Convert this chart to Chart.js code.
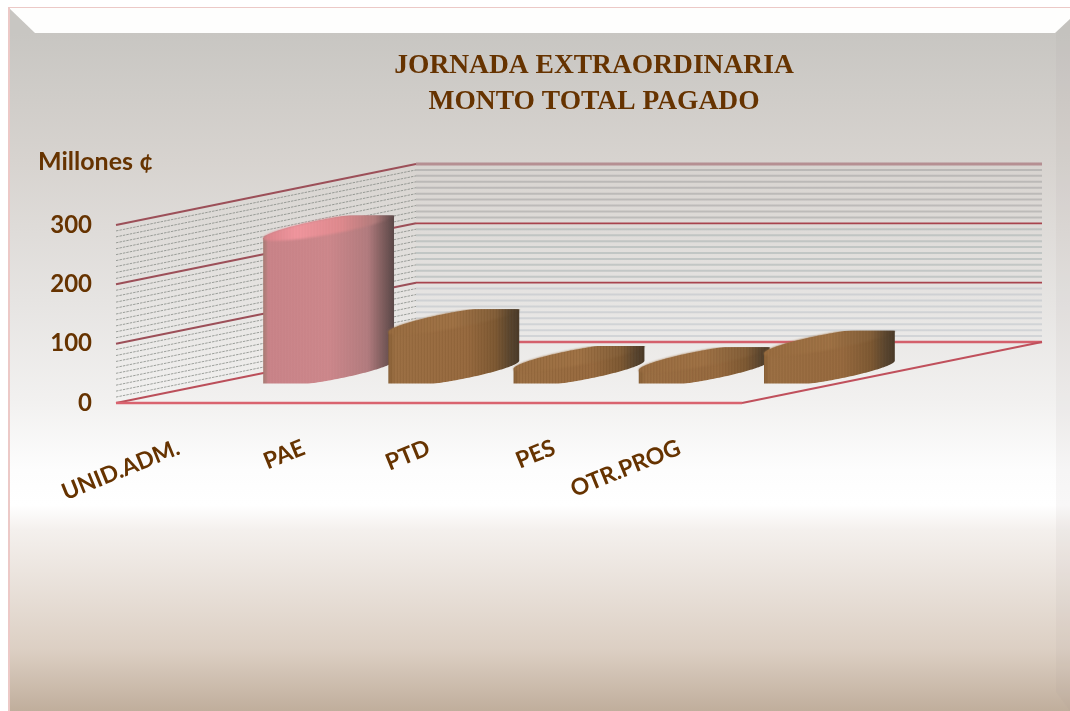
<!DOCTYPE html>
<html>
<head>
<meta charset="utf-8">
<title>Jornada extraordinaria</title>
<style>
html,body{margin:0;padding:0;background:#fff;}
canvas{display:block;}
</style>
<script src="https://cdn.jsdelivr.net/npm/chart.js@4/dist/chart.umd.js"></script>
</head>
<body>
<canvas id="c" width="1070" height="711"></canvas>
<script>
const titleLines = ["JORNADA EXTRAORDINARIA", "MONTO TOTAL PAGADO"];
const unitLabel = "Millones ¢";
const categories = ["UNID.ADM.", "PAE", "PTD", "PES", "OTR.PROG"];
const montoPagado = [246, 88, 26, 24, 52];
const yTicks = [0, 100, 200, 300];

const INK = "#663300";
const DEPTH_X = 300, DEPTH_Y = 61;   // oblique projection of the wall
const BAR_MID = 0.5;                 // bars stand half-way into the depth
const CAP_X = 0.36, CAP_Y = 0.36;    // depth of a bar relative to the wall
const CAP_BULGE = 1.3;               // rim overshoots and is flattened, as in the source render

const PALETTE = {
  pink:  {side:[[0,"#a57a72"],[.04,"#c98489"],[.5,"#cd888c"],[.8,"#b27c7f"],[.92,"#7c5c5c"],[1,"#5a4848"]],
          cap:[[0,"#d8848a"],[.25,"#f0969e"],[.6,"#de8a8e"],[.85,"#b27c7c"],[.94,"#7c5c5c"],[1,"#5e4a4a"]],
          stripe:"rgba(120,60,60,.03)"},
  brown: {side:[[0,"#8a6238"],[.05,"#9c7044"],[.6,"#986b40"],[.82,"#7e5a34"],[.93,"#5a4630"],[1,"#4a3b2a"]],
          cap:[[0,"#9a6e42"],[.5,"#a07346"],[.82,"#84603a"],[.93,"#5c4730"],[1,"#4c3c2a"]],
          stripe:"rgba(70,35,10,.10)"}
};
const barStyles = ["pink", "brown", "brown", "brown", "brown"];

function grad(ctx, x0, x1, stops){
  const g = ctx.createLinearGradient(x0, 0, x1, 0);
  stops.forEach(s => g.addColorStop(s[0], s[1]));
  return g;
}

function background(ctx){
  const W = 1070, H = 711;
  ctx.fillStyle = "#fff"; ctx.fillRect(0, 0, W, H);
  const g = ctx.createLinearGradient(0, 8, 0, H);
  const stops = [[33,"#c8c6c2"],[160,"#d7d3cf"],[300,"#e6e4e2"],[403,"#f2f1f0"],[470,"#fdfdfd"],
                 [505,"#ffffff"],[530,"#f4f0ed"],[600,"#e6ddd5"],[650,"#dccfc3"],[711,"#c0ae9c"]];
  stops.forEach(s => g.addColorStop((s[0]-8)/(H-8), s[1]));
  ctx.fillStyle = g; ctx.fillRect(9, 8, W-9, H-8);
  // top bevel
  ctx.fillStyle = "#fefefd";
  ctx.beginPath(); ctx.moveTo(9,8); ctx.lineTo(W,8); ctx.lineTo(W,19); ctx.lineTo(1055,33); ctx.lineTo(35,33); ctx.closePath(); ctx.fill();
  // right bevel
  ctx.fillStyle = "rgba(150,145,140,.07)";
  ctx.beginPath(); ctx.moveTo(W,19); ctx.lineTo(1056,33); ctx.lineTo(1056,692); ctx.lineTo(W,H); ctx.closePath(); ctx.fill();
  // frame
  ctx.fillStyle = "#ecc9c7";
  ctx.fillRect(8, 7, W-8, 1);
  ctx.fillRect(8, 7, 2, H-7);
}

function wall(chart){
  const {ctx, chartArea:a, scales:{y}} = chart;
  const xF = a.left, xB = a.left + DEPTH_X, xR = a.right + DEPTH_X;
  ctx.save();
  // minor gridlines, every tenth of a major step
  for (let v = y.min; v <= y.max; v += 10){
    if (v % 100 === 0) continue;
    const p = y.getPixelForValue(v);
    ctx.lineWidth = 2;
    ctx.strokeStyle = v > 200 ? "rgba(150,150,150,.45)" : v > 100 ? "rgba(150,165,165,.42)" : "rgba(170,180,190,.38)";
    ctx.beginPath(); ctx.moveTo(xB, p-DEPTH_Y); ctx.lineTo(xR, p-DEPTH_Y); ctx.stroke();
    ctx.lineWidth = 1;
    ctx.setLineDash([2.5,1]);
    ctx.strokeStyle = "rgba(125,130,125,.72)";
    ctx.beginPath(); ctx.moveTo(xF, p); ctx.lineTo(xB, p-DEPTH_Y); ctx.stroke();
    ctx.setLineDash([]);
  }
  // major gridlines
  yTicks.forEach(v => {
    const p = y.getPixelForValue(v);
    const top = v === y.max, zero = v === y.min;
    ctx.lineWidth = top ? 3 : zero ? 2.4 : 1.6;
    ctx.strokeStyle = top ? "rgba(170,120,125,.75)" : zero ? "#d4606c" : "#a8444e";
    ctx.beginPath(); ctx.moveTo(xB, p-DEPTH_Y); ctx.lineTo(xR, p-DEPTH_Y); ctx.stroke();
    ctx.lineWidth = 2;
    ctx.strokeStyle = zero ? "#bb4f5a" : "#9c4f58";
    ctx.beginPath(); ctx.moveTo(xF, p); ctx.lineTo(xB, p-DEPTH_Y); ctx.stroke();
  });
  // floor
  const p0 = y.getPixelForValue(0);
  ctx.lineWidth = 2.4; ctx.strokeStyle = "#d9636f";
  ctx.beginPath(); ctx.moveTo(xF, p0); ctx.lineTo(a.right, p0); ctx.stroke();
  ctx.lineWidth = 2; ctx.strokeStyle = "#c0505c";
  ctx.beginPath(); ctx.moveTo(a.right, p0); ctx.lineTo(xR, p0-DEPTH_Y); ctx.stroke();
  ctx.restore();
}

function cylinder(ctx, el, style){
  const cx = el.x + DEPTH_X*BAR_MID, base = el.base - DEPTH_Y*BAR_MID, top = el.y - DEPTH_Y*BAR_MID;
  const flat = DEPTH_Y*CAP_Y/2;
  const ax = el.width/2, bx = DEPTH_X*CAP_X/2, by = flat*CAP_BULGE;
  const N = 96, rim = (cy, t) => [cx + ax*Math.cos(t) + bx*Math.sin(t), cy - by*Math.sin(t)];
  const tL = Math.PI + Math.atan2(bx, ax), half = Math.hypot(ax, bx);
  const x0 = cx - half, x1 = cx + half;
  ctx.save();
  const keep = new Path2D();
  keep.rect(x0-3, top-flat, x1-x0+6, base-top+2*flat);
  ctx.clip(keep);
  // whole silhouette: front of the base, up the right edge, back of the top, down the left edge
  const body = new Path2D();
  for (let i = 0; i <= N; i++){ const p = rim(base, tL + i/N*Math.PI); i ? body.lineTo(p[0],p[1]) : body.moveTo(p[0],p[1]); }
  for (let i = 0; i <= N; i++){ const p = rim(top, tL + Math.PI + i/N*Math.PI); body.lineTo(p[0],p[1]); }
  body.closePath();
  ctx.filter = "blur(0.7px)";
  ctx.fillStyle = grad(ctx, x0, x1, style.side); ctx.fill(body);
  // cap
  const cap = new Path2D();
  for (let i = 0; i < N*2; i++){ const p = rim(top, i/(N*2)*2*Math.PI); i ? cap.lineTo(p[0],p[1]) : cap.moveTo(p[0],p[1]); }
  cap.closePath();
  ctx.filter = "blur(1.2px)";
  ctx.fillStyle = grad(ctx, x0, x1, style.cap); ctx.fill(cap);
  ctx.filter = "none";
  // fine vertical ribs
  ctx.save(); ctx.clip(body);
  ctx.strokeStyle = style.stripe; ctx.lineWidth = 1;
  for (let x = x0; x < x1; x += 3){ ctx.beginPath(); ctx.moveTo(x, top-40); ctx.lineTo(x, base+40); ctx.stroke(); }
  ctx.restore();
  ctx.restore();
}

const scene = {
  id: "scene",
  beforeDraw(chart){ background(chart.ctx); },
  afterLayout(chart){
    chart.boxes.forEach(b => {
      if (!b.options || b.axis) return;
      if (b.options.text === unitLabel){ b.left = 38; b.right = 400; }
      else if (b.options.text && b.options.text.length === titleLines.length){ b.left = 294; b.right = 894; }
    });
  },
  beforeDatasetDraw(chart, args){
    wall(chart);
    const meta = chart.getDatasetMeta(args.index);
    meta.data.forEach((el, i) => cylinder(chart.ctx, el, PALETTE[barStyles[i]]));
    return false;
  }
};

new Chart(document.getElementById("c"), {
  type: "bar",
  data: {
    labels: categories,
    datasets: [{ label: "Monto total pagado", data: montoPagado, backgroundColor: "#a57645",
                 categoryPercentage: 1, barPercentage: 0.59 }]
  },
  plugins: [scene],
  options: {
    responsive: false,
    animation: false,
    events: [],
    layout: { padding: { right: 328, left: 0, top: 0, bottom: 0 } },
    plugins: {
      legend: { display: false },
      tooltip: { enabled: false },
      title: { display: true, text: titleLines, color: INK,
               font: { family: "'Liberation Serif', serif", size: 27.5, weight: "bold", lineHeight: "36px" },
               padding: { top: 48, bottom: 26 } },
      subtitle: { display: true, text: unitLabel, color: INK, align: "start",
                  font: { family: "Lato, sans-serif", size: 25, weight: "bold", lineHeight: "28px" },
                  padding: { top: 2, bottom: 49 } }
    },
    scales: {
      x: {
        grid: { display: false }, border: { display: false },
        ticks: { color: INK, font: { family: "Lato, sans-serif", size: 23, weight: "bold" },
                 minRotation: 22, maxRotation: 22, padding: 23, autoSkip: false },
        afterFit(s){ s.height = 308; }
      },
      y: {
        min: 0, max: 300,
        grid: { display: false, drawTicks: false }, border: { display: false },
        ticks: { stepSize: 100, color: INK, padding: 24,
                 font: { family: "Lato, sans-serif", size: 24, weight: "bold" } },
        afterFit(s){ s.width = 116; }
      }
    }
  }
});
</script>
</body>
</html>
